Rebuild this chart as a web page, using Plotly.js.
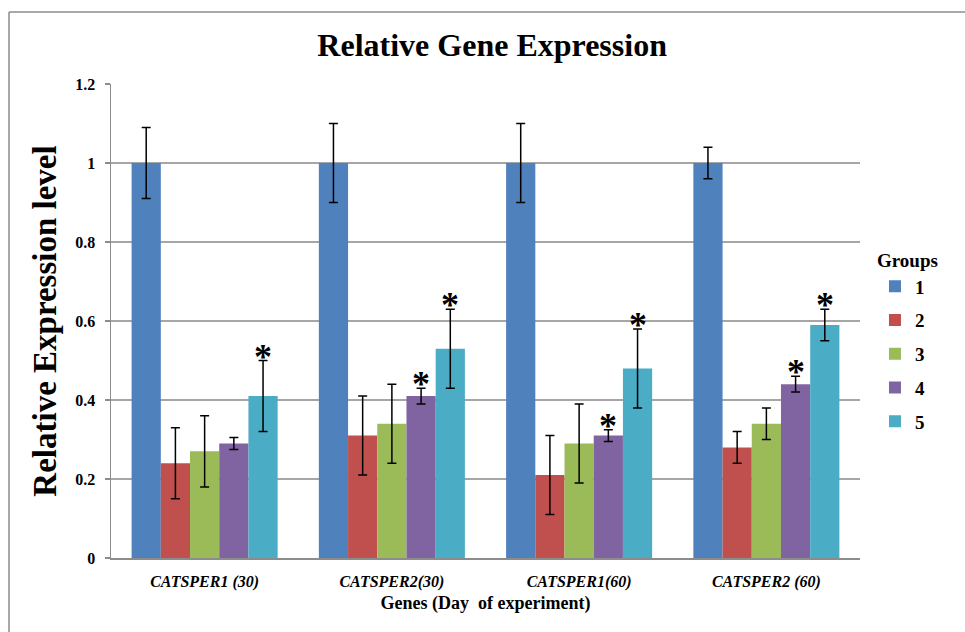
<!DOCTYPE html>
<html>
<head>
<meta charset="utf-8">
<script src="https://cdn.plot.ly/plotly-3.0.1.min.js"></script>
<style>
  html, body { margin: 0; padding: 0; background: #fff; }
  #chart { width: 965px; height: 632px; }
</style>
</head>
<body>
<div id="chart"></div>
<script>
var categories = ['CATSPER1 (30)', 'CATSPER2(30)', 'CATSPER1(60)', 'CATSPER2 (60)'];
var groupNames = ['1', '2', '3', '4', '5'];
var group1 = [1.00, 1.00, 1.00, 1.00];
var group2 = [0.24, 0.31, 0.21, 0.28];
var group3 = [0.27, 0.34, 0.29, 0.34];
var group4 = [0.29, 0.41, 0.31, 0.44];
var group5 = [0.41, 0.53, 0.48, 0.59];
var err1 = [0.09, 0.10, 0.10, 0.04];
var err2 = [0.09, 0.10, 0.10, 0.04];
var err3 = [0.09, 0.10, 0.10, 0.04];
var err4 = [0.015, 0.02, 0.015, 0.02];
var err5 = [0.09, 0.10, 0.10, 0.04];
var sig4 = [false, true, true, true];
var sig5 = [true, true, true, true];
var yTicks = [0, 0.2, 0.4, 0.6, 0.8, 1, 1.2];
var yTickText = ['0', '0.2', '0.4', '0.6', '0.8', '1', '1.2'];

var colors = ['#4F81BD', '#C0504D', '#9BBB59', '#8064A2', '#4BACC6'];
var values = [group1, group2, group3, group4, group5];
var errors = [err1, err2, err3, err4, err5];
var serif = 'Liberation Serif, Times New Roman, serif';

var bargap = 0.22;
var nSeries = values.length;
var barW = (1 - bargap) / nSeries;

var traces = values.map(function (v, i) {
  return {
    type: 'bar',
    name: groupNames[i],
    x: categories,
    y: v,
    legendgroup: 'g' + i,
    marker: { color: colors[i], line: { width: 0 } },
    error_y: { type: 'data', array: errors[i], visible: true, color: '#000', thickness: 1.5, width: 4.5 }
  };
});

var annotations = [];
function addStars(sig, idx) {
  sig.forEach(function (s, c) {
    if (!s) return;
    annotations.push({
      xref: 'x', yref: 'y',
      x: c - (1 - bargap) / 2 + barW * (idx + 0.5),
      y: values[idx][c] + errors[idx][c],
      text: '*', showarrow: false,
      yanchor: 'middle', yshift: 4,
      font: { family: serif, size: 36, color: '#000', weight: 'bold' }
    });
  });
}
addStars(sig4, 3);
addStars(sig5, 4);

var layout = {
  width: 965, height: 632,
  margin: { l: 111, r: 105, t: 84, b: 74 },
  paper_bgcolor: '#fff', plot_bgcolor: '#fff',
  barmode: 'group', bargap: bargap, bargroupgap: 0,
  title: {
    text: 'Relative Gene Expression',
    xref: 'container', x: 0.51, xanchor: 'center',
    yref: 'container', y: 0.929, yanchor: 'middle',
    font: { family: serif, size: 32, color: '#000', weight: 'bold' }
  },
  xaxis: {
    type: 'category',
    showgrid: false, zeroline: false,
    showline: true, linecolor: '#8c8c8c', linewidth: 1.5,
    ticks: '', ticklabelstandoff: 8,
    tickfont: { family: serif, size: 16, color: '#000', weight: 'bold', style: 'italic' },
    title: { text: 'Genes (Day  of experiment)', standoff: 6,
             font: { family: serif, size: 18, color: '#000', weight: 'bold' } },
    range: [-0.5, 3.5]
  },
  yaxis: {
    range: [0, 1.2], tickvals: yTicks, ticktext: yTickText,
    showgrid: true, gridcolor: '#a6a6a6', gridwidth: 1.2,
    zeroline: false,
    showline: true, linecolor: '#8c8c8c', linewidth: 1.5,
    ticks: 'outside', ticklen: 5, tickcolor: '#8c8c8c', tickwidth: 1.2,
    ticklabelstandoff: 6,
    tickfont: { family: serif, size: 16, color: '#000', weight: 'bold' },
    title: { text: 'Relative Expression level', standoff: 8,
             font: { family: serif, size: 33, color: '#000', weight: 'bold' } }
  },
  legend: {
    x: 1.02, xanchor: 'left', xref: 'paper',
    y: 0.665, yanchor: 'top',
    title: { text: 'Groups', font: { family: serif, size: 19, color: '#000', weight: 'bold' } },
    font: { family: serif, size: 19, color: '#000', weight: 'bold' },
    tracegroupgap: 6,
    itemwidth: 30,
    bgcolor: 'rgba(0,0,0,0)'
  },
  annotations: annotations,
  shapes: [
    { type: 'line', xref: 'paper', yref: 'paper', x0: -0.1362, x1: 1.2, y0: 1.1519, y1: 1.1519,
      line: { color: '#8c8c8c', width: 1.5 } },
    { type: 'line', xref: 'paper', yref: 'paper', x0: -0.1362, x1: -0.1362, y0: 1.1519, y1: -0.2,
      line: { color: '#8c8c8c', width: 1.5 } }
  ],
  showlegend: true
};

Plotly.newPlot('chart', traces, layout, { displayModeBar: false, staticPlot: true });
</script>
</body>
</html>
